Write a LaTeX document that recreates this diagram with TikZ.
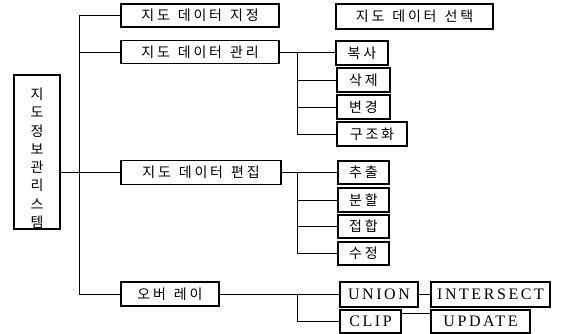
\documentclass[tikz,border=0pt]{standalone}
\usepackage{fontspec}
\newfontfamily\kr[LetterSpace=20]{Noto Sans CJK KR}
\newfontfamily\krv{Noto Sans CJK KR}
\newfontfamily\en[LetterSpace=16]{Liberation Serif}
\newcommand\kws{\hspace{8pt}}
\begin{document}
\begin{tikzpicture}[x=1pt,y=-1pt,
  bx/.style={draw, line width=1.1pt, inner sep=0pt, font=\kr\fontsize{14}{16}\selectfont},
  eb/.style={draw, line width=1.1pt, inner sep=0pt, font=\en\fontsize{16}{18}\selectfont},
  ln/.style={line width=0.9pt}]
\useasboundingbox (0,0) rectangle (564,334);
\fill[white] (0,0) rectangle (564,334);
% left system box
\node[draw, line width=1.1pt, inner sep=0pt, minimum width=46pt, minimum height=154pt, align=center,
  font=\krv\fontsize{14}{18.3}\selectfont] (sys) at (37,152)
  {\rule{0pt}{24pt}지\\도\\정\\보\\관\\리\\스\\템};
% level 1
\node[bx, minimum width=158pt, minimum height=23pt] (n1) at (200,15.5) {지도\kws 데이터\kws 지정};
\node[bx, minimum width=158pt, minimum height=23pt] (mgmt) at (200,52) {지도\kws 데이터\kws 관리};
\node[bx, minimum width=157pt, minimum height=25pt] (sel) at (414.5,16.5) {지도\kws 데이터\kws 선택};
\node[bx, minimum width=160pt, minimum height=24pt] (edit) at (201,172.5) {지도\kws 데이터\kws 편집};
\node[bx, minimum width=98pt, minimum height=24pt] (ovl) at (170,294) {오버\kws 레이};
% management children
\node[bx, minimum width=52pt, minimum height=24pt] (copy) at (362,53) {복사};
\node[bx, minimum width=53pt, minimum height=24pt] (del) at (363.5,80) {삭제};
\node[bx, minimum width=53pt, minimum height=24pt] (chg) at (363.5,107) {변경};
\node[bx, minimum width=70pt, minimum height=24pt] (struct) at (372,134) {구조화};
% edit children
\node[bx, minimum width=51pt, minimum height=23pt] (ext) at (363.5,172.5) {추출};
\node[bx, minimum width=51pt, minimum height=24pt] (split) at (363.5,200) {분할};
\node[bx, minimum width=51pt, minimum height=23pt] (join) at (363.5,226.5) {접합};
\node[bx, minimum width=51pt, minimum height=23pt] (mod) at (363.5,253.5) {수정};
% overlay children
\node[eb, minimum width=78pt, minimum height=25pt] (union) at (379,294.5) {UNION};
\node[eb, minimum width=119pt, minimum height=25pt] (inter) at (490.5,294.5) {INTERSECT};
\node[eb, minimum width=61pt, minimum height=23pt] (clip) at (370.5,321.5) {CLIP};
\node[eb, minimum width=99pt, minimum height=23pt] (update) at (480.5,321.5) {UPDATE};
% connectors
\coordinate (tr) at (79,0);
\coordinate (s1) at (297,0);
\draw[ln] (n1.west) -- (n1.west -| tr) -- (ovl.west -| tr) -- (ovl.west);
\draw[ln] (mgmt.west) -- (mgmt.west -| tr);
\draw[ln] (sys.east |- edit.west) -- (edit.west);
\draw[ln] (mgmt.east) -- (mgmt.east -| copy.west);
\draw[ln] (mgmt.east -| s1) |- (struct.west);
\draw[ln] (s1 |- del.west) -- (del.west);
\draw[ln] (s1 |- chg.west) -- (chg.west);
\draw[ln] (edit.east) -- (edit.east -| ext.west);
\draw[ln] (edit.east -| s1) |- (mod.west);
\draw[ln] (s1 |- split.west) -- (split.west);
\draw[ln] (s1 |- join.west) -- (join.west);
\draw[ln] (ovl.east) -- (ovl.east -| union.west);
\draw[ln] (ovl.east -| s1) |- (clip.west);
\draw[ln] (union.east) -- (union.east -| inter.west);
\coordinate (cu) at ([yshift=-4pt]clip.north east);
\draw[ln] (cu) -- (cu -| update.west);
\end{tikzpicture}
\end{document}
